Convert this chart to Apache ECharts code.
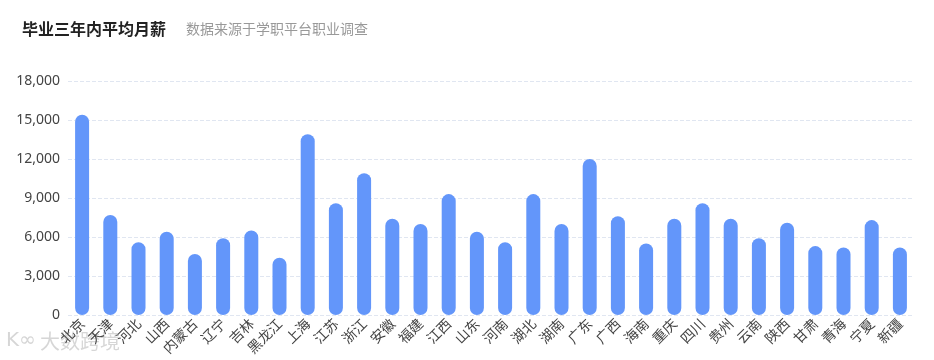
<!DOCTYPE html>
<html>
<head>
<meta charset="utf-8">
<script src="https://cdn.jsdelivr.net/npm/echarts@6/dist/echarts.min.js"></script>
<style>html,body{margin:0;padding:0;background:#fff;}#c{width:934px;height:360px;}</style>
</head>
<body>
<div id="c"></div>
<script>
const categories = ['北京','天津','河北','山西','内蒙古','辽宁','吉林','黑龙江','上海','江苏','浙江','安徽','福建','江西','山东','河南','湖北','湖南','广东','广西','海南','重庆','四川','贵州','云南','陕西','甘肃','青海','宁夏','新疆'];
const salary = [15400,7700,5600,6400,4700,5900,6500,4400,13900,8600,10900,7400,7000,9300,6400,5600,9300,7000,12000,7600,5500,7400,8600,7400,5900,7100,5300,5200,7300,5200];
const yTicks = [0,3000,6000,9000,12000,15000,18000];
const titleText = '毕业三年内平均月薪';
const subText = '数据来源于学职平台职业调查';
const watermark = '大数跨境';

const chart = echarts.init(document.getElementById('c'));
chart.setOption({
  animation: false,
  title: [
    {text: titleText, left: 17, top: 16, textStyle: {fontSize: 16, fontWeight: 'bold', color: '#222', fontFamily: 'Noto Sans CJK SC'}},
    {text: subText, left: 181, top: 17, textStyle: {fontSize: 14, fontWeight: 'normal', color: '#999', fontFamily: 'Noto Sans CJK SC'}}
  ],
  graphic: [
    {type: 'text', left: 40, top: 331, style: {text: watermark, fontSize: 20, fill: 'rgba(180,180,180,0.55)', fontFamily: 'Noto Sans CJK SC'}},
    {type: 'text', left: 6, top: 331, style: {text: 'K∞', fontSize: 20, fill: 'rgba(180,180,180,0.55)', fontFamily: 'DejaVu Sans'}}
  ],
  grid: {left: 68, right: 20, top: 81, bottom: 45, containLabel: false},
  xAxis: {
    type: 'category',
    data: categories,
    axisLine: {show: false},
    axisTick: {show: false},
    axisLabel: {rotate: 45, fontSize: 14, color: '#444', margin: 6, interval: 0, fontFamily: 'Noto Sans CJK SC'}
  },
  yAxis: {
    type: 'value',
    min: yTicks[0],
    max: yTicks[yTicks.length - 1],
    interval: yTicks[1] - yTicks[0],
    axisLine: {show: false},
    axisTick: {show: false},
    axisLabel: {fontSize: 14, color: '#444', margin: 8, fontFamily: 'Noto Sans',
      formatter: v => v.toLocaleString('en-US')},
    splitLine: {lineStyle: {type: 'dashed', color: '#e0e6f1'}}
  },
  series: [{
    type: 'bar',
    data: salary,
    barWidth: 14,
    itemStyle: {color: '#6396fa', borderRadius: 7}
  }]
});
</script>
</body>
</html>
